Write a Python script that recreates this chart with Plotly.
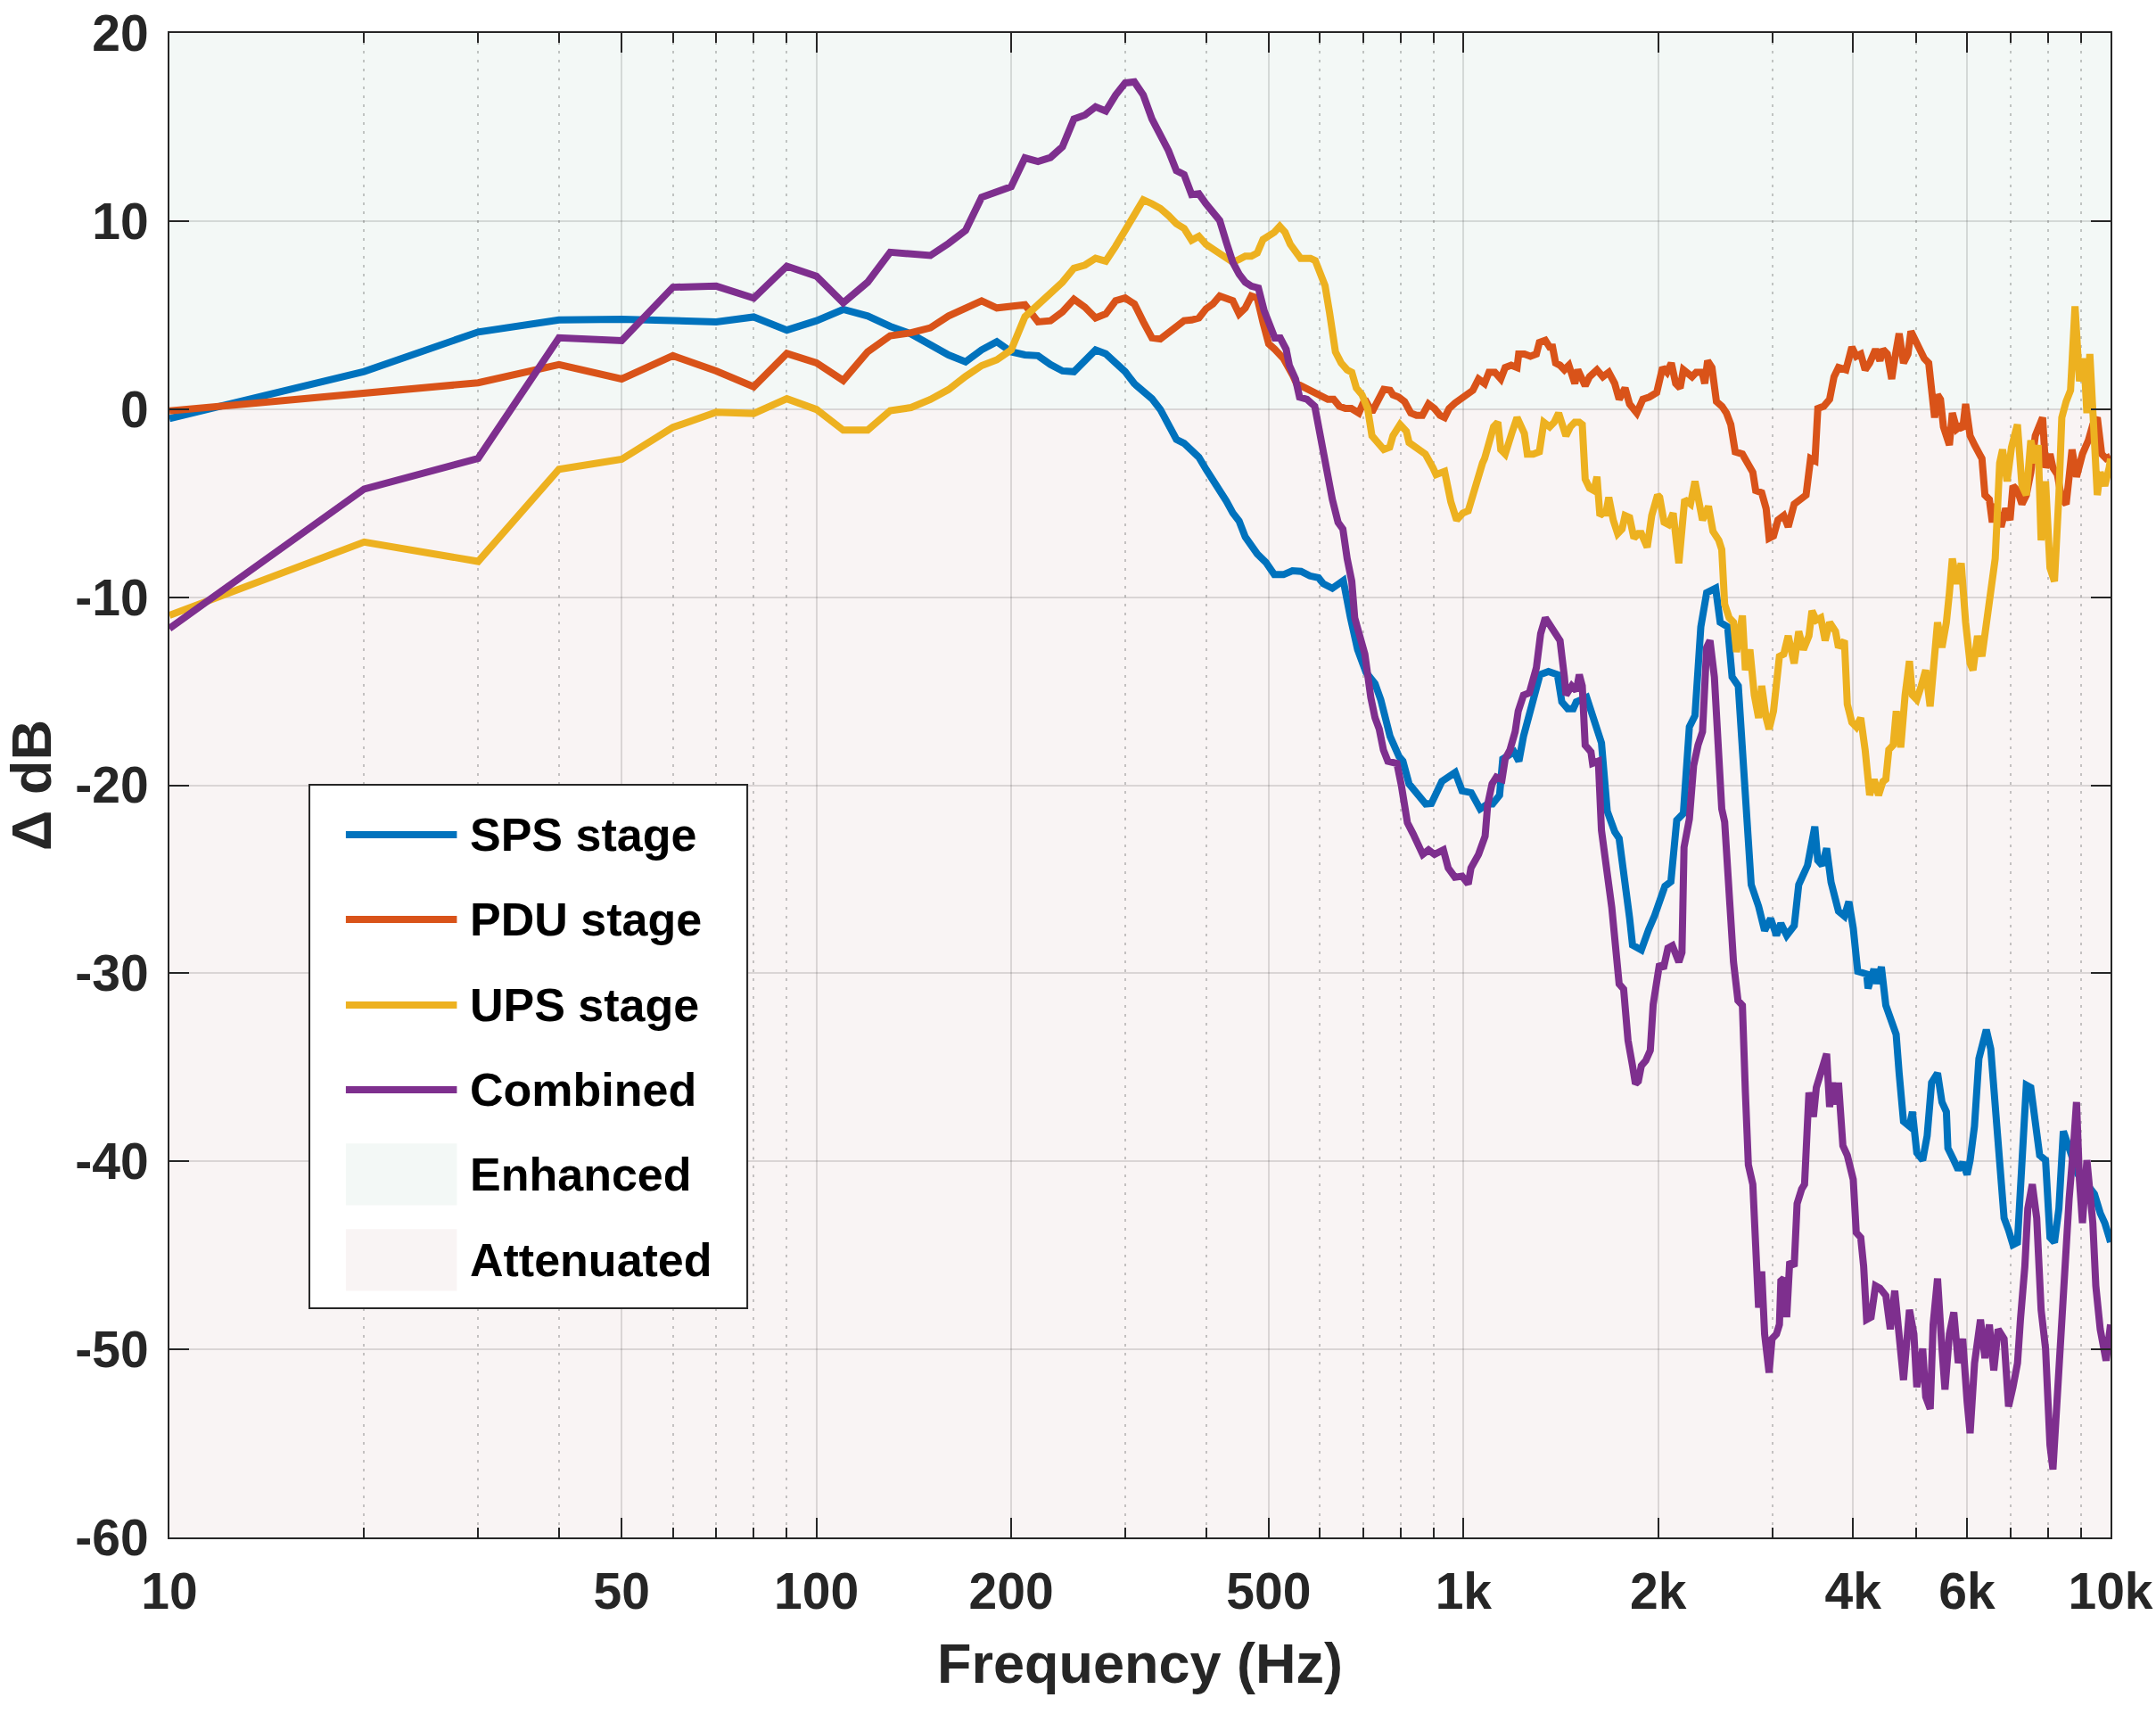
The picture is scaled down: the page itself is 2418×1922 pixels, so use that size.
import plotly.graph_objects as go

# ---------------- data (frequency in Hz, change in dB) ----------------
SPS_STAGE = [
    (10, -0.5), (20, 2.0), (30, 4.1), (40, 4.74), (50, 4.78), (60, 4.7), (70, 4.64), (80, 4.9),
    (90, 4.2), (100, 4.7), (110, 5.3), (120, 4.95), (130, 4.4), (140, 4.0), (150, 3.37), (160, 2.88),
    (170, 2.52), (180, 3.15), (190, 3.58), (200, 3.05), (210, 2.88), (220, 2.84), (230, 2.37),
    (240, 2.03), (250, 1.99), (260, 2.52), (270, 3.15), (280, 2.94), (290, 2.41), (300, 1.99),
    (310, 1.35), (320, 0.93), (330, 0.55), (340, -0.02), (350, -0.76), (360, -1.61), (370, -1.82),
    (380, -2.14), (390, -2.56), (400, -3.2), (410, -3.73), (420, -4.25), (430, -4.89), (440, -5.52),
    (450, -5.95), (460, -6.8), (480, -7.7), (495, -8.15), (510, -8.8), (527, -8.8), (544, -8.6),
    (561, -8.63), (579, -8.87), (597, -8.97), (607, -9.28), (627, -9.53), (652, -9.12), (669, -11.1),
    (686, -12.79), (707, -14.0), (730, -14.6), (745, -15.45), (770, -17.4), (795, -18.48),
    (806, -18.72), (824, -19.93), (850, -20.58), (874, -21.0), (892, -20.97), (926, -19.8),
    (971, -19.32), (995, -20.3), (1028, -20.4), (1061, -21.26), (1090, -21.0), (1109, -21.0),
    (1137, -20.53), (1150, -18.6), (1197, -18.23), (1218, -18.72), (1238, -17.4), (1280, -15.45),
    (1313, -14.12), (1353, -13.95), (1397, -14.12), (1419, -15.57), (1449, -15.93), (1478, -15.93),
    (1494, -15.57), (1550, -15.33), (1600, -16.9), (1634, -17.75), (1668, -21.38), (1713, -22.47),
    (1740, -22.83), (1768, -24.4), (1806, -27.06), (1825, -28.5), (1883, -28.76), (1933, -27.67),
    (1974, -26.94), (2048, -25.37), (2092, -25.13), (2136, -21.86), (2187, -21.5), (2234, -16.9),
    (2279, -16.3), (2327, -11.58), (2376, -9.77), (2453, -9.53), (2493, -11.34), (2560, -11.58),
    (2601, -14.24), (2659, -14.72), (2715, -20.29), (2784, -25.29), (2858, -26.44), (2920, -27.73),
    (2983, -27.09), (3046, -27.99), (3094, -27.35), (3159, -27.99), (3245, -27.47), (3297, -25.29),
    (3402, -24.26), (3491, -22.2), (3528, -24.0), (3584, -24.26), (3641, -23.36), (3699, -25.16),
    (3798, -26.7), (3879, -26.96), (3941, -26.19), (4003, -27.6), (4067, -29.9), (4198, -30.04),
    (4220, -30.81), (4309, -29.78), (4355, -30.55), (4424, -29.66), (4495, -31.71), (4567, -32.35),
    (4663, -33.25), (4713, -35.31), (4787, -37.88), (4889, -38.14), (4941, -37.37), (5019, -39.55),
    (5125, -39.94), (5207, -38.65), (5290, -35.82), (5403, -35.31), (5489, -36.85), (5576, -37.37),
    (5606, -39.3), (5725, -39.94), (5816, -40.45), (5909, -40.07), (6003, -40.71), (6067, -39.94),
    (6162, -38.14), (6260, -34.54), (6427, -33.0), (6530, -34.03), (6634, -37.37), (6740, -40.97),
    (6847, -43.02), (6957, -43.66), (7067, -44.43), (7180, -44.31), (7295, -40.45), (7411, -35.95),
    (7529, -36.08), (7649, -38.27), (7771, -39.68), (7936, -39.94), (8062, -44.05), (8191, -44.31),
    (8322, -42.51), (8454, -38.4), (8544, -38.91), (8726, -39.94), (8912, -40.71), (9198, -41.22),
    (9443, -41.74), (9644, -42.77), (9797, -43.28), (9953, -44.05), (10000, -44.3),
]

PDU_STAGE = [
    (10, -0.1), (20, 0.83), (30, 1.4), (40, 2.37), (50, 1.6), (60, 2.84), (70, 2.03), (80, 1.19),
    (90, 2.96), (100, 2.46), (110, 1.52), (120, 3.05), (130, 3.9), (140, 4.06), (150, 4.32),
    (160, 4.95), (170, 5.33), (180, 5.76), (190, 5.38), (200, 5.48), (210, 5.55), (220, 4.64),
    (230, 4.7), (240, 5.17), (250, 5.84), (260, 5.42), (270, 4.85), (280, 5.06), (290, 5.76),
    (300, 5.91), (310, 5.59), (320, 4.64), (330, 3.79), (340, 3.73), (350, 4.06), (360, 4.42),
    (370, 4.7), (380, 4.74), (390, 4.85), (400, 5.33), (410, 5.59), (420, 6.01), (430, 5.91),
    (440, 5.76), (450, 5.06), (460, 5.38), (470, 6.01), (480, 5.9), (490, 4.6), (500, 3.47),
    (511, 3.18), (527, 2.69), (544, 1.84), (552, 1.36), (561, 1.24), (579, 1.0), (592, 0.76),
    (604, 0.64), (617, 0.52), (630, 0.52), (643, 0.15), (657, 0.03), (671, 0.03), (689, -0.21),
    (704, 0.52), (722, -0.16), (738, 0.52), (753, 1.05), (770, 1.0), (778, 0.76), (794, 0.64),
    (811, 0.4), (829, -0.21), (846, -0.33), (864, -0.33), (883, 0.27), (902, 0.03), (920, -0.33),
    (935, -0.45), (950, 0.03), (970, 0.32), (991, 0.52), (1012, 0.81), (1034, 1.0), (1055, 1.6),
    (1078, 1.36), (1095, 1.96), (1118, 1.96), (1142, 1.6), (1160, 2.21), (1185, 2.33), (1210, 2.21),
    (1217, 2.93), (1242, 2.93), (1269, 2.81), (1296, 2.93), (1310, 3.54), (1338, 3.66), (1359, 3.29),
    (1373, 3.29), (1388, 2.45), (1410, 2.33), (1432, 2.09), (1455, 2.33), (1486, 1.36), (1502, 2.09),
    (1542, 1.24), (1566, 1.72), (1608, 2.09), (1642, 1.72), (1677, 1.96), (1713, 1.36), (1740, 0.52),
    (1777, 1.12), (1806, 0.27), (1853, -0.21), (1893, 0.52), (1937, 0.64), (1989, 0.88),
    (2031, 2.21), (2063, 1.96), (2095, 2.45), (2128, 1.36), (2162, 1.12), (2187, 2.09), (2221, 1.84),
    (2255, 1.72), (2289, 1.96), (2337, 1.96), (2360, 1.36), (2384, 2.57), (2421, 2.21), (2460, 0.4),
    (2509, 0.15), (2549, -0.21), (2589, -0.82), (2630, -2.27), (2698, -2.39), (2742, -2.87),
    (2800, -3.36), (2829, -4.33), (2890, -4.45), (2936, -5.29), (2967, -6.86), (3014, -6.74),
    (3062, -5.9), (3126, -5.66), (3176, -6.26), (3244, -5.05), (3331, -4.81), (3384, -4.57),
    (3439, -2.63), (3493, -2.75), (3529, 0.03), (3604, 0.15), (3680, 0.52), (3738, 1.72),
    (3798, 2.21), (3900, 2.09), (3983, 3.29), (4046, 2.81), (4111, 2.93), (4176, 2.09), (4244, 2.45),
    (4333, 3.18), (4402, 2.57), (4448, 3.18), (4518, 2.93), (4590, 1.6), (4640, 2.69), (4713, 4.02),
    (4787, 2.45), (4863, 2.93), (4915, 4.14), (4993, 3.66), (5073, 3.05), (5153, 2.69), (5236, 2.45),
    (5292, 1.24), (5347, -0.45), (5403, 0.76), (5460, 0.52), (5518, -0.94), (5576, -1.54),
    (5636, -1.91), (5695, -0.21), (5786, -1.06), (5846, -0.94), (5909, -1.06), (5971, 0.27),
    (6067, -1.42), (6164, -1.91), (6262, -2.27), (6328, -2.63), (6396, -4.57), (6497, -4.81),
    (6566, -6.02), (6634, -5.05), (6775, -6.26), (6883, -5.29), (6993, -5.9), (7067, -4.08),
    (7182, -4.33), (7296, -5.05), (7411, -4.57), (7530, -3.36), (7650, -1.42), (7771, -0.82),
    (7853, -0.45), (7936, -3.12), (8062, -2.39), (8147, -3.12), (8277, -3.48), (8408, -4.81),
    (8539, -5.05), (8630, -3.6), (8720, -2.15), (8860, -3.6), (9049, -2.39), (9242, -1.66),
    (9390, -0.82), (9540, -0.45), (9690, -2.39), (9844, -2.63), (10000, -2.51),
]

UPS_STAGE = [
    (10, -10.97), (20, -7.07), (30, -8.1), (40, -3.2), (50, -2.67), (60, -0.97), (70, -0.17),
    (80, -0.23), (90, 0.55), (100, -0.02), (110, -1.12), (120, -1.12), (130, -0.08), (140, 0.08),
    (150, 0.51), (160, 1.04), (170, 1.74), (180, 2.31), (190, 2.62), (200, 3.15), (210, 4.91),
    (220, 5.59), (230, 6.18), (240, 6.75), (250, 7.49), (260, 7.66), (270, 8.02), (280, 7.87),
    (290, 8.66), (300, 9.5), (310, 10.35), (320, 11.13), (330, 10.92), (340, 10.67), (350, 10.29),
    (360, 9.86), (370, 9.61), (380, 8.98), (390, 9.19), (400, 8.76), (410, 8.51), (420, 8.3),
    (430, 8.09), (440, 7.81), (450, 7.96), (460, 8.13), (470, 8.13), (480, 8.3), (490, 9.02),
    (500, 9.23), (510, 9.4), (520, 9.72), (530, 9.4), (540, 8.76), (550, 8.45), (560, 8.02),
    (570, 8.02), (580, 8.02), (590, 7.9), (600, 7.28), (611, 6.56), (621, 5.11), (634, 3.05),
    (647, 2.45), (661, 2.09), (672, 1.96), (683, 1.12), (697, 0.76), (711, 0.03), (722, -1.42),
    (738, -1.78), (753, -2.15), (769, -2.03), (778, -1.42), (798, -0.82), (816, -1.18), (824, -1.78),
    (846, -2.03), (873, -2.39), (897, -3.12), (907, -3.48), (935, -3.31), (956, -4.93), (976, -5.9),
    (998, -5.53), (1017, -5.41), (1037, -4.33), (1053, -3.84), (1070, -2.87), (1078, -2.63),
    (1090, -1.91), (1113, -0.94), (1130, -0.7), (1142, -2.15), (1160, -2.39), (1172, -1.78),
    (1190, -1.18), (1210, -0.45), (1230, -0.94), (1242, -1.3), (1255, -2.39), (1282, -2.39),
    (1310, -2.27), (1331, -0.7), (1359, -0.94), (1381, -0.7), (1403, -0.21), (1417, -0.7),
    (1440, -1.42), (1463, -0.94), (1486, -0.7), (1510, -0.7), (1526, -0.82), (1542, -3.72),
    (1566, -4.2), (1591, -4.33), (1608, -3.6), (1625, -5.66), (1642, -5.53), (1660, -5.53),
    (1677, -4.69), (1704, -5.9), (1731, -6.62), (1758, -6.38), (1777, -5.66), (1806, -5.77),
    (1834, -6.86), (1863, -6.62), (1883, -6.62), (1923, -7.35), (1954, -5.66), (1995, -4.57),
    (2010, -4.69), (2042, -6.02), (2074, -6.14), (2109, -5.53), (2152, -8.2), (2197, -4.81),
    (2243, -5.05), (2279, -3.84), (2304, -4.81), (2341, -5.9), (2391, -5.17), (2430, -6.5),
    (2481, -6.98), (2507, -7.47), (2533, -10.37), (2574, -11.1), (2614, -11.34), (2642, -12.91),
    (2698, -10.98), (2727, -13.88), (2771, -12.79), (2815, -15.21), (2858, -16.42), (2890, -14.72),
    (2936, -16.42), (2967, -17.02), (3014, -16.06), (3078, -13.15), (3126, -13.03), (3176, -12.06),
    (3244, -13.52), (3297, -11.82), (3352, -12.79), (3419, -12.06), (3456, -10.73), (3510, -11.22),
    (3566, -11.1), (3622, -12.31), (3680, -11.34), (3758, -11.82), (3798, -12.67), (3879, -12.31),
    (3919, -15.69), (3983, -16.66), (4046, -16.9), (4111, -16.42), (4176, -18.12), (4244, -20.53),
    (4312, -19.69), (4380, -20.53), (4448, -19.81), (4495, -19.69), (4543, -18.12), (4615, -17.87),
    (4665, -16.06), (4740, -17.99), (4814, -15.21), (4889, -13.4), (4941, -15.21), (5019, -15.45),
    (5099, -14.72), (5180, -13.88), (5262, -15.81), (5347, -12.55), (5403, -11.34), (5489, -12.67),
    (5576, -11.34), (5636, -9.77), (5695, -7.95), (5786, -9.29), (5878, -8.2), (5971, -11.34),
    (6067, -13.52), (6130, -13.88), (6229, -12.06), (6328, -13.15), (6430, -11.34), (6497, -10.37),
    (6566, -9.41), (6634, -7.95), (6740, -2.87), (6810, -2.15), (6920, -3.84), (7030, -2.03),
    (7180, -0.82), (7296, -4.08), (7411, -4.57), (7530, -1.66), (7650, -2.87), (7730, -1.91),
    (7812, -6.98), (7936, -3.84), (8062, -8.44), (8191, -9.16), (8322, -4.57), (8408, -0.45),
    (8539, 0.4), (8674, 1.0), (8813, 5.47), (8953, 1.48), (9096, 2.69), (9194, -0.21), (9290, 2.93),
    (9390, 0.27), (9540, -4.57), (9640, -3.36), (9797, -4.08), (9953, -3.12), (10000, -2.63),
]

COMBINED = [
    (10, -11.66), (20, -4.25), (30, -2.62), (40, 3.79), (50, 3.64), (60, 6.48), (70, 6.54),
    (80, 5.9), (90, 7.6), (100, 7.07), (110, 5.65), (120, 6.75), (130, 8.34), (140, 8.3),
    (150, 8.17), (160, 8.81), (170, 9.5), (180, 11.26), (190, 11.58), (200, 11.83), (210, 13.36),
    (220, 13.17), (230, 13.38), (240, 13.95), (250, 15.43), (260, 15.64), (270, 16.07), (280, 15.85),
    (290, 16.7), (300, 17.34), (310, 17.4), (320, 16.7), (330, 15.43), (340, 14.58), (350, 13.74),
    (360, 12.68), (370, 12.47), (380, 11.41), (390, 11.45), (400, 10.92), (410, 10.46), (420, 10.03),
    (430, 8.87), (440, 7.81), (450, 7.18), (460, 6.75), (470, 6.54), (482, 6.44), (492, 5.23),
    (505, 4.26), (511, 3.78), (521, 3.78), (532, 3.18), (538, 2.33), (550, 1.6), (558, 0.64),
    (573, 0.52), (589, 0.15), (602, -1.54), (614, -3.35), (627, -4.8), (640, -6.02), (651, -6.38),
    (661, -7.95), (672, -9.16), (679, -11.1), (690, -12.06), (704, -13.03), (719, -15.33),
    (730, -16.42), (741, -17.02), (752, -18.12), (764, -18.72), (789, -18.84), (802, -20.05),
    (819, -21.99), (836, -22.59), (851, -23.07), (865, -23.68), (883, -23.44), (902, -23.68),
    (931, -23.44), (947, -24.4), (970, -24.89), (995, -24.84), (1017, -25.25), (1027, -24.4),
    (1055, -23.68), (1080, -22.71), (1090, -21.02), (1107, -19.93), (1124, -19.57), (1147, -19.69),
    (1160, -18.6), (1180, -18.12), (1202, -17.15), (1215, -16.06), (1238, -15.21), (1264, -15.09),
    (1296, -13.76), (1316, -11.94), (1338, -11.1), (1359, -11.46), (1388, -11.82), (1410, -12.31),
    (1432, -14.24), (1440, -15.21), (1470, -14.72), (1494, -14.97), (1510, -14.12), (1526, -14.72),
    (1542, -17.87), (1574, -18.23), (1583, -18.84), (1616, -18.72), (1634, -22.4), (1668, -24.59),
    (1695, -26.49), (1722, -28.94), (1740, -30.57), (1768, -30.84), (1796, -33.57), (1825, -34.92),
    (1844, -35.88), (1863, -35.74), (1883, -34.92), (1913, -34.65), (1944, -34.1), (1964, -31.66),
    (1985, -30.84), (2009, -29.5), (2037, -29.75), (2070, -28.66), (2103, -28.53), (2136, -29.34),
    (2152, -29.4), (2176, -28.9), (2192, -23.3), (2234, -21.8), (2268, -18.96), (2304, -17.87),
    (2341, -17.15), (2376, -12.67), (2404, -12.31), (2442, -14.24), (2481, -17.87), (2507, -21.26),
    (2533, -21.95), (2560, -25.03), (2614, -29.4), (2656, -31.45), (2698, -31.71), (2727, -36.34),
    (2756, -40.19), (2800, -41.22), (2829, -45.33), (2858, -47.78), (2890, -45.85), (2920, -49.19),
    (2967, -51.24), (2998, -49.44), (3046, -49.19), (3078, -48.68), (3094, -46.36), (3126, -46.23),
    (3159, -48.29), (3193, -45.33), (3244, -45.59), (3278, -42.25), (3331, -41.48), (3366, -41.22),
    (3419, -36.34), (3474, -37.63), (3510, -36.08), (3566, -35.31), (3622, -34.54), (3641, -34.28),
    (3680, -37.11), (3719, -35.82), (3758, -36.98), (3798, -35.82), (3858, -39.17), (3919, -39.68),
    (4003, -40.97), (4046, -43.79), (4111, -44.05), (4154, -45.59), (4198, -48.42), (4265, -48.29),
    (4333, -46.62), (4402, -46.75), (4495, -47.14), (4567, -48.93), (4640, -46.88), (4713, -49.7),
    (4787, -51.63), (4889, -47.9), (4967, -49.19), (5019, -52.01), (5125, -49.96), (5181, -52.53),
    (5264, -53.17), (5319, -48.68), (5403, -46.23), (5489, -49.96), (5548, -52.14), (5636, -49.19),
    (5725, -48.03), (5817, -50.73), (5909, -49.44), (6003, -52.79), (6067, -54.46), (6164, -50.73),
    (6295, -48.42), (6396, -50.47), (6497, -48.68), (6600, -51.12), (6703, -48.93), (6847, -49.44),
    (6957, -53.04), (7067, -52.01), (7182, -50.73), (7257, -48.42), (7372, -45.59), (7450, -42.51),
    (7570, -41.22), (7690, -43.02), (7812, -47.9), (7936, -49.96), (8062, -55.1), (8147, -56.39),
    (8234, -53.56), (8364, -50.22), (8451, -46.62), (8539, -44.05), (8630, -41.99), (8767, -39.17),
    (8860, -36.85), (8953, -40.97), (9049, -43.28), (9194, -39.94), (9290, -41.48), (9390, -43.28),
    (9490, -46.62), (9640, -48.93), (9844, -50.6), (10000, -48.68),
]

SERIES_NAMES = ["SPS stage", "PDU stage", "UPS stage", "Combined"]
SERIES_COLORS = ["#0072BD", "#D95319", "#EDB120", "#7E2F8E"]
REGION_NAMES = ["Enhanced", "Attenuated"]
REGION_COLORS = ["#F3F8F6", "#F9F4F4"]

X_MAJOR = [10, 50, 100, 200, 500, 1000, 2000, 4000, 6000, 10000]
X_LABELS = ["10", "50", "100", "200", "500", "1k", "2k", "4k", "6k", "10k"]
X_MINOR = [20, 30, 40, 60, 70, 80, 90, 300, 400, 600, 700, 800, 900,
           3000, 5000, 7000, 8000, 9000]
Y_TICKS = [-60, -50, -40, -30, -20, -10, 0, 10, 20]
Y_LABELS = ["-60", "-50", "-40", "-30", "-20", "-10", "0", "10", "20"]

# ---------------- figure ----------------
FONT = "Liberation Sans"
AX = "#262626"
LW = 8

fig = go.Figure()
for name, pts, color in zip(SERIES_NAMES, [SPS_STAGE, PDU_STAGE, UPS_STAGE, COMBINED], SERIES_COLORS):
    fig.add_trace(go.Scatter(
        x=[p[0] for p in pts], y=[p[1] for p in pts], mode="lines", name=name,
        line=dict(color=color, width=LW), showlegend=False,
    ))

# enhanced / attenuated background regions
fig.add_shape(type="rect", xref="paper", yref="y", x0=0, x1=1, y0=0, y1=20,
              fillcolor=REGION_COLORS[0], line=dict(width=0), layer="below")
fig.add_shape(type="rect", xref="paper", yref="y", x0=0, x1=1, y0=-60, y1=0,
              fillcolor=REGION_COLORS[1], line=dict(width=0), layer="below")

# legend (drawn in paper coordinates)
LEG_X0, LEG_X1, LEG_Y0, LEG_Y1 = 0.0721, 0.2977, 0.1523, 0.5003
fig.add_shape(type="rect", xref="paper", yref="paper", x0=LEG_X0, x1=LEG_X1, y0=LEG_Y0, y1=LEG_Y1,
              fillcolor="white", line=dict(color=AX, width=2), layer="above")
row_y = [0.4671, 0.4108, 0.3539, 0.2976, 0.2413, 0.1844]
sx0, sx1, tx = 0.0909, 0.1481, 0.1537
labels = SERIES_NAMES + REGION_NAMES
for i, lab in enumerate(labels):
    if i < 4:
        fig.add_shape(type="line", xref="paper", yref="paper", x0=sx0, x1=sx1, y0=row_y[i], y1=row_y[i],
                      line=dict(color=SERIES_COLORS[i], width=LW), layer="above")
    else:
        fig.add_shape(type="rect", xref="paper", yref="paper", x0=sx0, x1=sx1,
                      y0=row_y[i] - 0.0205, y1=row_y[i] + 0.0205,
                      fillcolor=REGION_COLORS[i - 4], line=dict(width=0), layer="above")
    fig.add_annotation(xref="paper", yref="paper", x=tx, y=row_y[i], text=lab, showarrow=False,
                       xanchor="left", yanchor="middle",
                       font=dict(family=FONT, size=52, color="black", weight="bold"))

axis_common = dict(
    showline=True, linecolor=AX, linewidth=2, mirror="ticks",
    ticks="inside", ticklen=22, tickwidth=2, tickcolor=AX,
    showgrid=True, gridcolor="rgba(38,38,38,0.15)", gridwidth=2, zeroline=False,
    tickfont=dict(family=FONT, size=57, color=AX, weight="bold"),
)

fig.update_layout(
    width=2418, height=1922,
    margin=dict(l=190, r=51, t=37, b=198, autoexpand=False),
    paper_bgcolor="white", plot_bgcolor="white",
    showlegend=False,
    xaxis=dict(
        type="log", range=[1, 4], tickmode="array", tickvals=X_MAJOR, ticktext=X_LABELS,
        ticklabelstandoff=10,
        minor=dict(tickmode="array", tickvals=X_MINOR, ticks="inside", ticklen=11, tickwidth=2,
                   tickcolor=AX, showgrid=True, gridcolor="rgba(38,38,38,0.25)",
                   griddash="3px,7px", gridwidth=2),
        title=dict(text="Frequency (Hz)", standoff=28,
                   font=dict(family=FONT, size=63, color=AX, weight="bold")),
        **axis_common,
    ),
    yaxis=dict(
        range=[-60, 20], tickmode="array", tickvals=Y_TICKS, ticktext=Y_LABELS,
        ticklabelstandoff=10,
        title=dict(text="Δ dB", standoff=12,
                   font=dict(family=FONT, size=63, color=AX, weight="bold")),
        **axis_common,
    ),
)

fig.write_html("out.html")
